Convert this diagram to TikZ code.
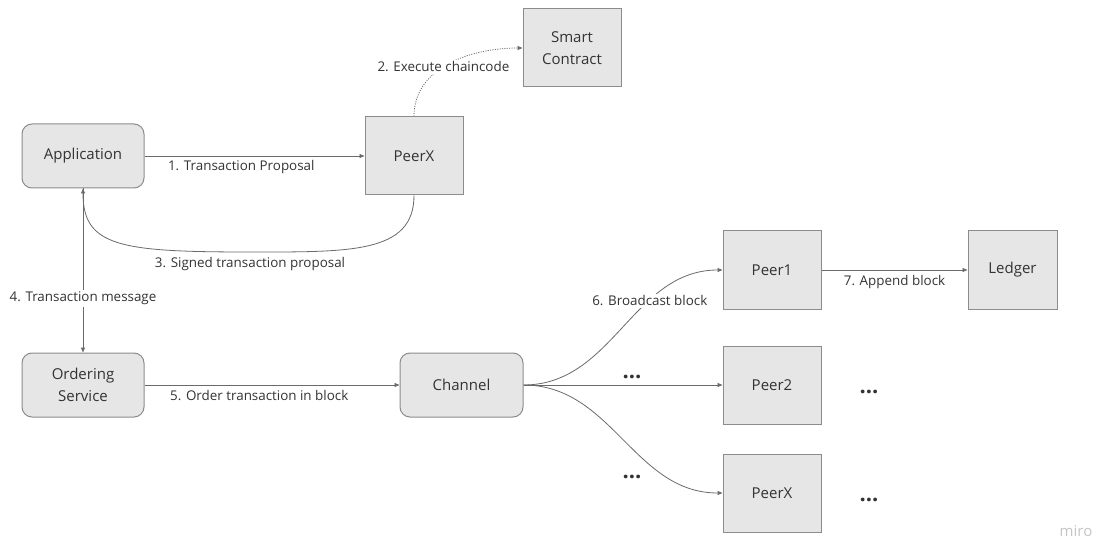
\documentclass[tikz,border=0pt]{standalone}
\usepackage{fontspec}
\setmainfont{Open Sans}
\usetikzlibrary{arrows.meta}

\definecolor{boxfill}{HTML}{E6E6E6}
\definecolor{boxline}{HTML}{8C8C8C}
\definecolor{txt}{HTML}{333333}
\definecolor{wirecol}{HTML}{6A6A6A}
\definecolor{logocol}{HTML}{C4C4C4}

\begin{document}
\begin{tikzpicture}[x=1pt,y=-1pt,
  box/.style={draw=boxline, fill=boxfill, line width=1pt, text=txt,
    font=\fontsize{15}{22}\selectfont, align=center, inner sep=0pt},
  sq/.style={box, minimum width=98pt, minimum height=78pt},
  rnd/.style={box, rounded corners=10pt, minimum width=122pt, minimum height=64pt},
  wire/.style={draw=wirecol, line width=0.8pt, -{Triangle[length=5pt,width=4pt]}},
  dots/.style={dash pattern=on 1.1pt off 1.3pt},
  lbl/.style={text=txt, font=\fontsize{13.4}{16}\selectfont, inner sep=2pt},
  under/.style={lbl, anchor=base, yshift=-15pt},
  more/.style={text=txt, font=\fontsize{22}{22}\selectfont\bfseries, inner sep=0pt}
]
\useasboundingbox (0,0) rectangle (1106,540);

% boxes
\node[rnd] (app) at (83,156) {Application};
\node[sq]  (px)  at (414,156) {PeerX};
\node[sq]  (sc)  at (572,48) {Smart\\Contract};
\node[rnd] (ord) at (83,385) {Ordering\\Service};
\node[rnd, minimum width=123pt] (ch) at (461.5,385) {Channel};
\node[sq]  (p1)  at (772,270) {Peer1};
\node[sq, minimum width=89pt] (led) at (1012.5,270) {Ledger};
\node[sq]  (p2)  at (772,385) {Peer2};
\node[sq]  (p3)  at (772,493) {PeerX};

% endorsement round trip
\draw[wire] (app.east) -- node[under, pos=0.44] {1. Transaction Proposal} (px.west);
\draw[wire, dots] (px.north) to[out=90,in=180]
  node[lbl, fill=white, pos=0.45] {2. Execute chaincode} (sc.west);
\coordinate (c3) at (250,252);
\draw[wire] (px.south) .. controls +(0,58) and +(100,0) .. (c3)
  .. controls +(-130,0) and +(0,58) .. (app.south);
\node[under, yshift=-1pt] (l3) at (c3) {3. Signed transaction proposal};

% ordering
\draw[wire] (app.south) -- node[lbl, fill=white, pos=0.69, anchor=base] {4. Transaction message} (ord.north);
\draw[wire] (ord.east) -- node[under, pos=0.45] {5. Order transaction in block} (ch.west);

% broadcast to peers
\draw[wire] (ch.east) to[out=0,in=180]
  node[lbl, fill=white, pos=0.66] {6. Broadcast block} (p1.west);
\draw[wire] (ch.east) -- (p2.west);
\draw[wire] (ch.east) to[out=0,in=180] (p3.west);
\draw[wire] (p1.east) -- node[under, pos=0.5] {7. Append block} (led.west);

% ellipses for further peers
\node[more] (m1) at (632,377) {...};
\node[more] (m2) at (632,477) {...};
\node[more] (m3) at (869,392) {...};
\node[more] (m4) at (869,500) {...};

\node[text=logocol, font=\fontsize{15}{18}\selectfont, inner sep=0pt] (logo) at (1076,531) {miro};
\end{tikzpicture}
\end{document}
